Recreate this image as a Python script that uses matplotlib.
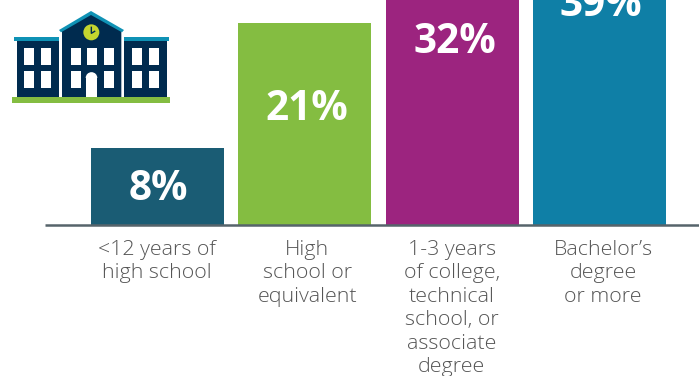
import matplotlib
matplotlib.use("Agg")
import matplotlib.pyplot as plt
from matplotlib.patches import Rectangle, Polygon, Circle, Wedge
from matplotlib.transforms import ScaledTranslation

plt.rcParams['font.family'] = ['Open Sans', 'DejaVu Sans']

categories = ['<12 years of\nhigh school', 'High\nschool or\nequivalent',
              '1-3 years\nof college,\ntechnical\nschool, or\nassociate\ndegree',
              'Bachelor\u2019s\ndegree\nor more']
shares = [8, 21, 32, 39]
label_heights = [4.26, 12.58, 19.45, 23.34]
bar_colors = ['#1a5c74', '#84bd41', '#9c247f', '#0f7fa6']

W, H = 699, 376
fig = plt.figure(figsize=(W / 100, H / 100), dpi=100)

# chart area: baseline sits 225px down, the top of the canvas cuts the tall bars
ax = fig.add_axes([45 / W, 1 - 225 / H, 654 / W, 225 / H])
x = range(len(shares))
bars = ax.bar(x, shares, width=0.902, color=bar_colors, clip_on=True)
ax.set_xlim(-0.763, 3.674)
ax.set_ylim(0, 23.4)
ax.set_yticks([])
for s in ['top', 'left', 'right']:
    ax.spines[s].set_visible(False)
ax.spines['bottom'].set_color('#56646b')
ax.spines['bottom'].set_linewidth(1.8)
ax.spines['bottom'].set_capstyle('butt')
ax.set_xticks(list(x))
ax.set_xticklabels(categories, fontsize=15.4, color='#555555', linespacing=1.235,
                   fontweight='light')
ax.tick_params(axis='x', length=0, pad=10.5)

# the captions and percentages are not quite centred on their bars
caption_shift = [-0.5, 2.5, -0.5, 3.5]
value_shift = [0.5, 2, 3, 1]
for lab, dx in zip(ax.get_xticklabels(), caption_shift):
    lab.set_transform(lab.get_transform() + ScaledTranslation(dx / 100, 0, fig.dpi_scale_trans))

for i, v in enumerate(shares):
    ax.annotate(f'{v}%', (i, label_heights[i]), xytext=(value_shift[i] * 0.72, 0),
                textcoords='offset points', ha='center', va='center_baseline', color='white',
                fontsize=29.2, fontweight='bold', annotation_clip=False)

# school building icon, drawn in pixel units on its own overlay
ic = fig.add_axes([0, 0, 1, 1])
ic.set_xlim(0, W * 3)
ic.set_ylim(H * 3, 0)
ic.axis('off')
ic.patch.set_alpha(0)

navy = '#002b4f'
teal = '#0f92b5'

def box(x0, y0, x1, y1, c):
    ic.add_patch(Rectangle((x0, y0), x1 - x0, y1 - y0, facecolor=c, edgecolor='none'))

box(50, 120, 177, 293, navy)
box(373, 120, 500, 293, navy)
ic.add_patch(Polygon([(186, 293), (186, 90), (273, 42), (364, 90), (364, 293)],
                     facecolor=navy, edgecolor='none'))
box(42, 112, 177, 122, teal)
box(372, 112, 507, 122, teal)
ic.add_patch(Polygon([(177, 90), (273, 33), (372, 90), (366, 97), (273, 45), (183, 97)],
                     facecolor=teal, edgecolor='none'))
box(36, 292, 510, 310, '#84bd41')

for wx in [72, 123, 396, 447]:
    for wy in [143, 212]:
        box(wx, wy, wx + 31, wy + 52, 'white')
for wx in [213, 261, 311]:
    box(wx, 143, wx + 31, 195, 'white')
for wx in [213, 311]:
    box(wx, 212, wx + 31, 264, 'white')

box(257, 234, 292, 292, 'white')
ic.add_patch(Wedge((274.5, 234), 17.5, 180, 360, facecolor='white', edgecolor='none'))

ic.add_patch(Circle((274, 97), 24, facecolor='#c4d52f', edgecolor='none'))
ic.plot([274, 274, 284], [82, 100, 94], color=navy, lw=1)

fig.savefig('out.png', dpi=100)
